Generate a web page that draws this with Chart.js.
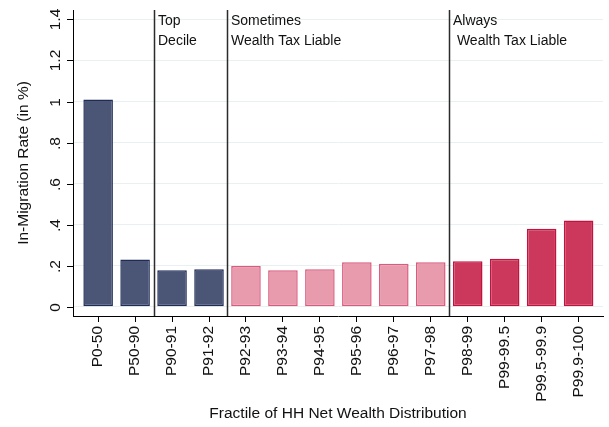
<!DOCTYPE html>
<html>
<head>
<meta charset="utf-8">
<script src="https://cdn.jsdelivr.net/npm/chart.js@4/dist/chart.umd.min.js"></script>
<style>
  html, body { margin: 0; padding: 0; background: #fff; overflow: hidden; }
  canvas { display: block; }
</style>
</head>
<body>
<canvas id="migChart" width="609" height="427"></canvas>
<script>
// data
const fractiles = ['P0-50', 'P50-90', 'P90-91', 'P91-92', 'P92-93', 'P93-94', 'P94-95',
  'P95-96', 'P96-97', 'P97-98', 'P98-99', 'P99-99.5', 'P99.5-99.9', 'P99.9-100'];
const migrationRate = [1.01, 0.23, 0.178, 0.183, 0.199, 0.178, 0.183,
  0.217, 0.209, 0.217, 0.222, 0.234, 0.38, 0.42];
// which wealth tax group every bar belongs to
const taxGroup = ['none', 'none', 'none', 'none', 'sometimes', 'sometimes', 'sometimes',
  'sometimes', 'sometimes', 'sometimes', 'always', 'always', 'always', 'always'];
const yTickValues = [0, 0.2, 0.4, 0.6, 0.8, 1, 1.2, 1.4];
const yTickLabels = ['0', '.2', '.4', '.6', '.8', '1', '1.2', '1.4'];
// dividers sit between categories
const dividerAt = [1.5, 3.5, 9.5];
const dividerText = [['Top', 'Decile'], ['Sometimes', 'Wealth Tax Liable'], ['Always', ' Wealth Tax Liable']];
const xTitle = 'Fractile of HH Net Wealth Distribution';
const yTitle = 'In-Migration Rate (in %)';

const FONT = '"Liberation Sans", Arial, sans-serif';
const fill = { none: '#4b5677', sometimes: '#e79bad', always: '#cc375c' };
const edge = { none: '#1f2c58', sometimes: '#d95b7d', always: '#c4123f' };

// eigene Zeichnungen: Trennlinien, Gruppentexte, Achsentitel, gedrehte y-Beschriftung
const overlay = {
  id: 'overlay',
  afterDraw(chart) {
    const ctx = chart.ctx;
    const x = chart.scales.x;
    const y = chart.scales.y;
    const area = chart.chartArea;
    ctx.save();

    // vertical dividers + group text
    dividerAt.forEach((pos, i) => {
      const px = Math.round(x.getPixelForValue(pos)) + 0.5;
      ctx.strokeStyle = '#2b2b2b';
      ctx.lineWidth = 1.5;
      ctx.beginPath();
      ctx.moveTo(px, area.top);
      ctx.lineTo(px, area.bottom);
      ctx.stroke();

      ctx.fillStyle = '#111';
      ctx.font = '14px ' + FONT;
      ctx.textAlign = 'left';
      ctx.textBaseline = 'alphabetic';
      dividerText[i].forEach((line, j) => {
        ctx.fillText(line, px + 3.5, area.top + 15 + j * 20);
      });
    });

    // y tick marks and labels, turned like Stata does
    ctx.fillStyle = '#111';
    ctx.strokeStyle = '#000';
    ctx.lineWidth = 1;
    ctx.font = '15.5px ' + FONT;
    yTickValues.forEach((v, i) => {
      const py = Math.round(y.getPixelForValue(v)) + 0.5;
      ctx.beginPath();
      ctx.moveTo(area.left - 6, py);
      ctx.lineTo(area.left, py);
      ctx.stroke();
      ctx.save();
      ctx.translate(area.left - 13, py);
      ctx.rotate(-Math.PI / 2);
      ctx.textAlign = 'center';
      ctx.textBaseline = 'alphabetic';
      ctx.fillText(yTickLabels[i], 0, 0);
      ctx.restore();
    });

    // y title
    ctx.save();
    ctx.translate(28, (area.top + area.bottom) / 2);
    ctx.rotate(-Math.PI / 2);
    ctx.textAlign = 'center';
    ctx.fillText(yTitle, 0, 0);
    ctx.restore();

    // x title
    ctx.textAlign = 'center';
    ctx.textBaseline = 'middle';
    ctx.fillText(xTitle, (area.left + area.right) / 2, 414);

    ctx.restore();
  }
};

const ctx = document.getElementById('migChart').getContext('2d');
const migChart = new Chart(ctx, {
  type: 'bar',
  data: {
    datasets: [{
      data: migrationRate.map((v, i) => ({ x: i, y: v })),
      backgroundColor: taxGroup.map(g => fill[g]),
      borderColor: taxGroup.map(g => edge[g]),
      borderWidth: 1.5,
      borderSkipped: false,
      barPercentage: 0.8,
      categoryPercentage: 1.0
    }]
  },
  options: {
    responsive: false,
    animation: false,
    maintainAspectRatio: false,
    devicePixelRatio: 1,
    layout: { padding: { top: 10, right: 6, left: 0, bottom: 0 } },
    plugins: {
      legend: { display: false },
      tooltip: { enabled: false }
    },
    scales: {
      x: {
        type: 'linear',
        offset: false,
        min: -0.68,
        max: 13.66,
        afterBuildTicks: s => { s.ticks = fractiles.map((f, i) => ({ value: i })); },
        afterFit: s => { s.height = 111; },
        grid: { offset: false, drawOnChartArea: false, drawTicks: true, tickLength: 6, tickColor: '#000' },
        border: { display: true, color: '#000', width: 1 },
        ticks: {
          autoSkip: false,
          minRotation: 90,
          maxRotation: 90,
          padding: 4,
          color: '#111',
          font: { family: FONT, size: 15.5 },
          callback: v => fractiles[v]
        }
      },
      y: {
        min: -0.045,
        max: 1.446,
        afterBuildTicks: s => { s.ticks = yTickValues.map(v => ({ value: v })); },
        afterFit: s => { s.width = 73; },
        grid: { color: '#e8f0f1', lineWidth: 1, drawTicks: false },
        border: { display: true, color: '#000', width: 1 },
        ticks: { display: false }
      }
    }
  },
  plugins: [overlay]
});
</script>
</body>
</html>
